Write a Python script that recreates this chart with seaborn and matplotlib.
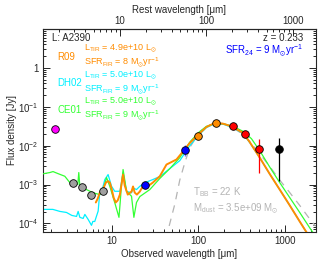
import matplotlib
matplotlib.use("Agg")
import matplotlib.pyplot as plt
import matplotlib.ticker as mticker
import seaborn as sns

z = 0.233

# SED templates: observed wavelength [um], flux density [Jy]
r09_wave = [6.53, 6.89, 7.26, 7.87, 8.53, 9.06, 9.49, 10.0, 10.5, 11.1, 11.7, 12.4, 13.1, 13.5,
            14.1, 15.3, 16.9, 17.6, 18.4, 19.5, 21.1, 22.8, 26.1, 29.8, 35.9, 42.9, 56.0, 66.7,
            79.8, 99.6, 124, 155, 194, 242, 330, 394, 514, 671, 875, 1143, 1490, 1702, 1945]
r09_flux = [3.45e-4, 4.4e-4, 6.2e-4, 7.4e-4, 1.12e-3, 1.22e-3, 1.12e-3, 7.4e-4, 4.6e-4, 3.45e-4,
            3.9e-4, 5.5e-4, 1.19e-3, 1.8e-3, 9.4e-4, 5.5e-4, 6.6e-4, 8.9e-4, 6.2e-4, 5.5e-4,
            6.6e-4, 8.9e-4, 9.0e-4, 1.12e-3, 1.63e-3, 3.26e-3, 4.4e-3, 7.1e-3, 0.0117, 0.0191,
            0.0301, 0.0382, 0.0366, 0.0313, 0.0212, 0.0123, 4.9e-3, 1.86e-3, 7.4e-4, 2.9e-4,
            1.12e-4, 7.0e-5, 4.4e-5]

dh02_wave = [1.59, 2.08, 2.51, 2.99, 3.45, 3.91, 4.08, 4.27, 4.66, 4.88, 5.32, 5.82, 6.03, 6.35,
             6.95, 7.26, 7.87, 8.30, 9.06, 9.93, 10.8, 12.4, 13.5, 14.8, 16.9, 17.6, 19.3, 21.1,
             24.1, 29.8, 35.9, 46.9, 61.1, 79.8, 99.6, 124, 155, 194, 251, 330, 394, 514, 671,
             875, 1143, 1490, 1945]
dh02_flux = [2.29e-4, 2.29e-4, 2.03e-4, 1.91e-4, 1.6e-4, 1.51e-4, 2.03e-4, 1.43e-4, 1.34e-4,
             1.7e-4, 1.27e-4, 8.9e-5, 1.12e-4, 1.12e-4, 2.07e-4, 6.2e-4, 8.4e-4, 1.34e-3, 1.8e-3,
             9.0e-4, 6.7e-4, 6.7e-4, 2.0e-3, 6.7e-4, 6.1e-4, 8.2e-4, 7.4e-4, 9.0e-4, 1.11e-3,
             1.34e-3, 1.6e-3, 2.57e-3, 4.1e-3, 0.010, 0.018, 0.029, 0.0366, 0.0356, 0.029,
             0.0203, 0.0119, 4.9e-3, 1.86e-3, 7.4e-4, 2.9e-4, 1.12e-4, 4.4e-5]

ce01_wave = [1.59, 1.92, 2.09, 2.38, 2.86, 3.27, 3.73, 4.04, 4.15, 4.27, 5.10, 6.08, 7.26, 8.09,
             8.69, 9.49, 10.8, 12.1, 12.5, 12.9, 13.5, 14.8, 16.9, 18.0, 19.3, 21.1, 27.5, 35.9,
             46.9, 61.1, 79.8, 99.6, 124, 155, 194, 253, 330, 412, 514, 671, 875, 1143, 1490,
             2000, 2410]
ce01_flux = [1.88e-3, 2.03e-3, 2.15e-3, 1.91e-3, 1.63e-3, 1.12e-3, 1.06e-3, 1.0e-3, 2.03e-3,
             8.9e-4, 7.4e-4, 6.1e-4, 5.5e-4, 8.4e-4, 1.51e-3, 8.9e-4, 3.45e-4, 1.43e-4, 3.45e-4,
             9.0e-4, 2.43e-3, 6.7e-4, 5.0e-4, 1.43e-4, 3.45e-4, 4.9e-4, 7.4e-4, 1.43e-3, 2.57e-3,
             4.9e-3, 0.0123, 0.0212, 0.0313, 0.0366, 0.0366, 0.0313, 0.0233, 0.0151, 7.4e-3,
             2.81e-3, 1.12e-3, 4.6e-4, 1.91e-4, 7.0e-5, 3.9e-5]

bb_wave = [42.1, 46.9, 53.5, 61.1, 69.8, 79.8, 104, 136, 177, 231, 302, 394, 514, 671, 875,
           1143, 1490, 1945, 2280]
bb_flux = [3.9e-5, 1.0e-4, 3.1e-4, 1.3e-3, 3.6e-3, 8.9e-3, 0.023, 0.034, 0.039, 0.033, 0.022,
           0.013, 6.2e-3, 2.9e-3, 1.3e-3, 6.2e-4, 2.9e-4, 1.3e-4, 8.4e-5]

# photometry
k_wave, k_flux = [2.2], [0.026]
irac_wave = [3.6, 4.5, 5.8, 8.0]
irac_flux = [1.1e-3, 8.7e-4, 5.3e-4, 6.7e-4]
mips_wave = [24, 70]
mips_flux = [1.0e-3, 7.9e-3]
mips_err = [0, 2.5e-3]
pacs_wave = [100, 160]
pacs_flux = [0.0173, 0.0389]
spire_wave = [250, 350, 500]
spire_flux = [0.0313, 0.0203, 8.4e-3]
spire_err = [0, 0, 6.4e-3]
submm_wave, submm_flux, submm_err = [850], [8.4e-3], [7.2e-3]

c_r09 = "#ff8c00"
c_dh02 = "#00f0ff"
c_ce01 = "#33ff33"
c_text_bb = "#b4b4b4"

sns.set_style("ticks")
plt.rcParams["font.family"] = ["Liberation Sans", "DejaVu Sans"]
plt.rcParams["mathtext.fontset"] = "custom"
plt.rcParams["mathtext.rm"] = "Liberation Sans"
plt.rcParams["mathtext.it"] = "Liberation Sans:italic"
plt.rcParams["mathtext.default"] = "regular"
fs = 7

fig = plt.figure(figsize=(3.24, 2.63), dpi=100)
ax = fig.add_axes([43 / 324, 1 - 232 / 263, 273 / 324, 203 / 263])
ax.set_xscale("log")
ax.set_yscale("log")

sns.lineplot(x=bb_wave, y=bb_flux, ax=ax, color=c_text_bb, lw=0.9, dashes=(6, 5),
             estimator=None, sort=False, zorder=1)
sns.lineplot(x=dh02_wave, y=dh02_flux, ax=ax, color=c_dh02, lw=0.9, estimator=None, sort=False, zorder=2)
sns.lineplot(x=ce01_wave, y=ce01_flux, ax=ax, color=c_ce01, lw=0.9, estimator=None, sort=False, zorder=3)
sns.lineplot(x=r09_wave, y=r09_flux, ax=ax, color=c_r09, lw=1.4, estimator=None, sort=False, zorder=4)

ax.errorbar(mips_wave, mips_flux, yerr=mips_err, fmt="none", ecolor="#6060ff", elinewidth=1, zorder=5)
ax.errorbar(spire_wave, spire_flux, yerr=spire_err, fmt="none", ecolor="red", elinewidth=0.9, zorder=5)
ax.errorbar(submm_wave, submm_flux, yerr=submm_err, fmt="none", ecolor="black", elinewidth=0.9, zorder=5)

groups = [(k_wave, k_flux, "#ff00ff"), (irac_wave, irac_flux, "#a0a0a0"),
          (mips_wave, mips_flux, "#0000ff"), (pacs_wave, pacs_flux, "#ff8c00"),
          (spire_wave, spire_flux, "#ff0000"), (submm_wave, submm_flux, "#000000")]
for w, f, c in groups:
    sns.scatterplot(x=w, y=f, ax=ax, color=c, s=30, edgecolor="black", linewidth=0.6, zorder=6)

ax.set_xlim(1.6, 2300)
ax.set_ylim(6e-5, 10)

ax.xaxis.set_major_locator(mticker.FixedLocator([10, 100, 1000]))
ax.xaxis.set_major_formatter(mticker.FixedFormatter(["10", "100", "1000"]))
ax.xaxis.set_minor_locator(mticker.LogLocator(base=10, subs=range(2, 10), numticks=20))
ax.xaxis.set_minor_formatter(mticker.NullFormatter())
ax.yaxis.set_major_locator(mticker.FixedLocator([1e-4, 1e-3, 1e-2, 1e-1, 1]))
ax.yaxis.set_major_formatter(mticker.FixedFormatter(
    ["$10^{-4}$", "$10^{-3}$", "$10^{-2}$", "$10^{-1}$", "1"]))
ax.yaxis.set_minor_locator(mticker.LogLocator(base=10, subs=range(2, 10), numticks=20))
ax.yaxis.set_minor_formatter(mticker.NullFormatter())
ax.tick_params(which="both", direction="in", top=False, right=True, labelsize=fs, width=0.7, pad=3)
ax.tick_params(which="major", length=5)
ax.tick_params(which="minor", length=2.5)
for s in ax.spines.values():
    s.set_linewidth(0.8)

top = ax.secondary_xaxis("top", functions=(lambda x: x / (1 + z), lambda x: x * (1 + z)))
top.xaxis.set_major_locator(mticker.FixedLocator([10, 100, 1000]))
top.xaxis.set_major_formatter(mticker.FixedFormatter(["10", "100", "1000"]))
top.xaxis.set_minor_locator(mticker.LogLocator(base=10, subs=range(2, 10), numticks=20))
top.xaxis.set_minor_formatter(mticker.NullFormatter())
top.tick_params(which="both", direction="in", labelsize=fs, width=0.7, pad=2)
top.tick_params(which="major", length=5)
top.tick_params(which="minor", length=2.5)
top.set_xlabel("Rest wavelength [μm]", fontsize=fs, labelpad=2)

ax.set_xlabel("Observed wavelength [μm]", fontsize=fs, labelpad=2)
ax.set_ylabel("Flux density [Jy]", fontsize=fs, labelpad=1)

def px(x, y, s, size=fs, **kw):
    fig.text(x / 324, 1 - y / 263, s, fontsize=size, va="center", **kw)

px(52, 38, "L: A2390")
px(303, 38, "z = 0.233", ha="right")
px(303, 51, "SFR$_{24}$ = 9 M$_{\\odot}$yr$^{-1}$", ha="right", color="#0000ff")

labels = [("R09", "4.9e+10", "8", c_r09, 49), ("DH02", "5.0e+10", "9", c_dh02, 75.5),
          ("CE01", "5.0e+10", "9", c_ce01, 102)]
for name, ltir, sfr, c, y0 in labels:
    px(57, y0 + 8, name, color=c)
    px(84, y0, "L$_{TIR}$ = " + ltir + " L$_{\\odot}$", size=6.5, color=c)
    px(84, y0 + 13.5, "SFR$_{FIR}$ = " + sfr + " M$_{\\odot}$yr$^{-1}$", size=6.5, color=c)

px(193, 192, "T$_{BB}$ = 22 K", color=c_text_bb)
px(193, 209, "M$_{dust}$ = 3.5e+09 M$_{\\odot}$", color=c_text_bb)

fig.savefig("out.png", dpi=100)
